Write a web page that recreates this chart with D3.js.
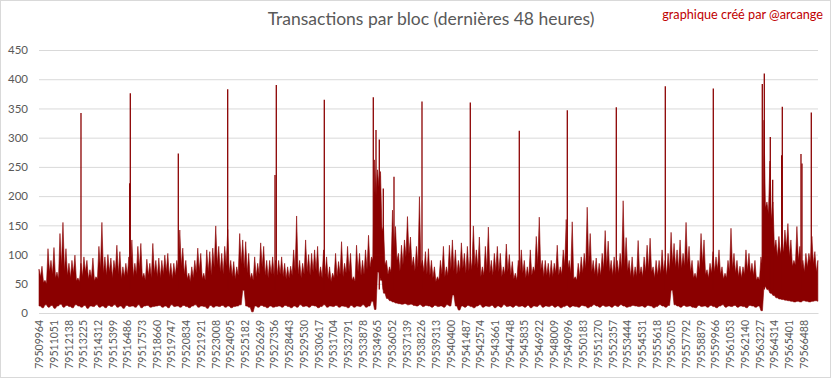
<!doctype html>
<html>
<head>
<meta charset="utf-8">
<style>
  body { margin: 0; background: #fff; }
  text { font-family: Lato, "Open Sans", sans-serif; }
</style>
<script src="https://d3js.org/d3.v7.min.js"></script>
</head>
<body>
<svg width="833" height="379"></svg>
<script>
// block range shown (48 hours)
var firstBlock = 79509964, lastBlock = 79567564;
var binSize = 221.5; // blocks per envelope bin

var tickBlocks = [79509964, 79511051, 79512138, 79513225, 79514312, 79515399, 79516486, 79517573,
  79518660, 79519747, 79520834, 79521921, 79523008, 79524095, 79525182, 79526269, 79527356, 79528443,
  79529530, 79530617, 79531704, 79532791, 79533878, 79534965, 79536052, 79537139, 79538226, 79539313,
  79540400, 79541487, 79542574, 79543661, 79544748, 79545835, 79546922, 79548009, 79549096, 79550183,
  79551270, 79552357, 79553444, 79554531, 79555618, 79556705, 79557792, 79558879, 79559966, 79561053,
  79562140, 79563227, 79564314, 79565401, 79566488];

var yTicks = [0, 50, 100, 150, 200, 250, 300, 350, 400, 450];

// highest block in each bin
var highs = [
  75,80,56,110,90,112,70,136,155,110, 85,90,99,60,85,96,90,74,94,62,
  114,155,96,100,94,90,116,105,79,85, 96,125,85,114,119,68,92,85,119,90,
  94,90,99,102,85,85,90,142,111,90, 68,79,90,111,102,68,108,105,111,149,
  114,102,114,143,90,88,79,136,125,122, 102,68,96,85,120,114,90,90,96,90,
  90,96,85,79,80,108,166,90,85,125, 100,102,108,114,79,108,96,79,68,102,
  88,122,85,114,102,62,116,102,90,108, 133,96,262,245,242,148,90,79,176,148,
  102,116,125,165,130,96,114,199,90,105, 110,90,79,62,90,114,79,116,125,108,
  90,120,102,114,96,149,108,130,79,114, 147,90,102,114,102,79,118,100,88,68,
  90,108,90,79,108,79,131,164,90,90, 85,90,85,116,79,108,160,90,156,62,
  85,96,102,181,136,90,94,85,102,141, 123,90,96,90,102,192,129,90,96,79,
  124,79,96,116,128,79,90,90,108,90, 102,138,119,108,125,102,155,114,90,68,
  90,136,125,74,85,105,96,108,79,68, 90,145,102,90,80,79,108,102,85,90,
  62,96,330,190,260,190,125,131,119,142, 153,125,90,148,114,90,102,102,131,105,90
];

// level of the dip between one bin's peak and the next
var valleys = [
  62,52,50,70,66,60,58,80,72,64, 60,68,55,54,62,70,58,60,55,58,
  75,68,64,70,60,72,66,58,62,64, 70,62,66,75,60,56,64,60,68,62,
  60,66,70,62,58,64,72,80,66,58, 54,60,68,72,58,56,70,64,78,82,
  70,66,80,68,62,58,64,84,76,68, 58,56,62,66,78,64,60,66,62,64,
  66,62,58,60,64,72,66,60,66,70, 64,70,72,62,60,66,58,54,60,62,
  66,62,68,70,56,54,70,64,66,74, 78,90,200,215,140,82,66,70,110,90,
  72,82,96,100,80,72,78,80,70,66, 64,60,54,56,66,62,64,74,72,66,
  70,76,68,72,74,80,76,62,64,72, 68,64,72,70,62,66,70,64,58,56,
  66,68,60,62,64,70,82,74,62,64, 60,62,68,64,66,80,74,68,58,56,
  62,68,76,84,70,66,62,64,74,78, 70,64,66,68,74,80,72,62,60,62,
  66,62,70,74,70,60,64,66,70,64, 72,84,78,74,76,80,82,70,60,58,
  72,84,66,60,68,70,74,66,58,60, 70,76,68,62,60,66,72,68,64,56,
  56,80,180,170,160,110,96,100,104,112, 96,80,82,90,74,70,78,86,84,70,70
];

// lowest block in each bin
var lows = [
  12,9,14,10,13,8,12,15,10,13,11,9,14,12,10,13,8,12,11,14,
  10,12,9,13,11,14,10,12,8,13,11,12,10,14,9,12,13,10,11,12,
  13,10,12,9,14,11,12,10,13,11,9,12,14,10,12,11,8,13,10,12,
  11,13,10,12,9,11,12,14,39,12,10,2,12,10,13,11,9,12,10,11,
  12,10,13,11,9,12,10,14,11,12,10,13,12,9,11,14,10,12,11,13,
  10,12,11,9,13,10,12,11,14,10,12,20,6,70,56,34,25,21,19,17,
  16,15,16,14,15,13,12,14,11,13,12,10,13,11,12,10,14,12,31,12,
  5,12,10,13,11,9,12,14,10,12,11,13,9,12,10,14,11,12,10,13,
  11,12,10,13,9,12,11,14,10,12,11,13,10,12,9,11,13,10,12,11,
  10,13,12,9,11,14,12,10,13,11,12,10,13,11,14,12,10,11,13,12,
  11,12,10,13,12,9,11,14,12,10,13,39,14,12,10,13,11,12,10,9,
  13,11,12,10,13,11,9,12,14,10,12,11,13,10,12,11,9,13,12,10,
  12,4,45,40,34,30,26,24,23,22,21,20,19,20,19,21,20,19,20,21,20
];

// isolated tall blocks
var spikeBlocks = [79513069, 79516670, 79516715, 79520264, 79523916, 79527414, 79527510, 79531059,
  79534682, 79534882, 79535126, 79535421, 79536213, 79538283, 79541854, 79545477, 79549027,
  79552650, 79556273, 79559822, 79563445, 79563593, 79564036, 79564214, 79564879, 79564924,
  79566306, 79566380, 79567068];
var spikeValues = [342, 222, 376, 273, 383, 236, 390, 365,
  369, 313, 297, 213, 233, 362, 360, 312, 347,
  352, 388, 384, 392, 410, 301, 228, 270, 353,
  272, 256, 343];

var red = "#8b0000", grey = "#595959", gridCol = "#d9d9d9";

var svg = d3.select("svg");
var plotLeft = 39, plotRight = 818, plotTop = 50, plotBottom = 313;

var x = d3.scaleLinear().domain([firstBlock, lastBlock]).range([plotLeft, plotRight]);
var y = d3.scaleLinear().domain([0, 450]).range([plotBottom, plotTop]);

svg.append("rect")
  .attr("x", 0.5).attr("y", 0.5).attr("width", 830).attr("height", 377)
  .attr("fill", "#fff").attr("stroke", gridCol);

// y axis + gridlines
var yAxis = svg.append("g")
  .attr("transform", "translate(" + plotLeft + ",0)")
  .call(d3.axisLeft(y).tickValues(yTicks).tickSize(-(plotRight - plotLeft)).tickPadding(11));
yAxis.select(".domain").remove();
yAxis.selectAll(".tick line").attr("stroke", gridCol);
yAxis.selectAll(".tick text").attr("fill", grey).style("font-size", "11.5px");

// envelope: peak of each bin, then the dip before the next one
var pts = [];
highs.forEach(function(h, i) {
  var b = firstBlock + i * binSize;
  if (b > lastBlock) return;
  pts.push({ b: b, top: h, bot: lows[i] });
  if (i < highs.length - 1 && b + binSize / 2 <= lastBlock)
    pts.push({ b: b + binSize / 2, top: valleys[i], bot: lows[i] });
});

var area = d3.area()
  .x(function(d) { return x(d.b); })
  .y0(function(d) { return y(d.bot); })
  .y1(function(d) { return y(d.top); });

svg.append("path")
  .datum(pts)
  .attr("d", area)
  .attr("fill", red)
  .attr("stroke", red)
  .attr("stroke-width", 0.6)
  .attr("stroke-linejoin", "round");

svg.selectAll(".spike")
  .data(spikeBlocks)
  .enter().append("line")
  .attr("class", "spike")
  .attr("x1", function(d) { return x(d); })
  .attr("x2", function(d) { return x(d); })
  .attr("y1", y(40))
  .attr("y2", function(d, i) { return y(spikeValues[i]); })
  .attr("stroke", red)
  .attr("stroke-width", 1.3);

// x axis
var xAxis = svg.append("g")
  .attr("transform", "translate(0," + plotBottom + ")")
  .call(d3.axisBottom(x).tickValues(tickBlocks).tickSize(0).tickFormat(d3.format("d")));
xAxis.select(".domain").attr("stroke", gridCol);
xAxis.selectAll(".tick text")
  .attr("fill", grey)
  .attr("y", 0)
  .attr("x", -7)
  .attr("dy", "0.35em")
  .attr("transform", "rotate(-90)")
  .style("text-anchor", "end")
  .style("font-size", "10.5px");

// title
var title = svg.append("text")
  .attr("x", 431).attr("y", 25)
  .attr("text-anchor", "middle")
  .attr("fill", grey)
  .style("font-size", "18px")
  .text("Transactions par bloc (dernières 48 heures)");
var tw = title.node().getComputedTextLength();
title.style("font-size", (18 * 327 / tw) + "px");

var credit = svg.append("text")
  .attr("x", 823).attr("y", 19)
  .attr("text-anchor", "end")
  .attr("fill", "#c00000")
  .style("font-size", "13px")
  .text("graphique créé par @arcange");
var cw = credit.node().getComputedTextLength();
credit.style("font-size", (13 * 161 / cw) + "px");
</script>
</body>
</html>
